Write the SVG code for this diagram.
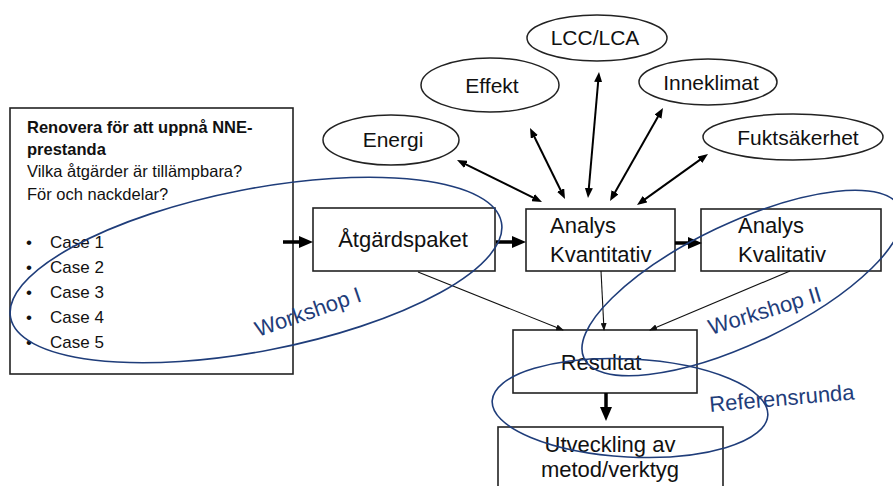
<svg xmlns="http://www.w3.org/2000/svg" width="893" height="486" viewBox="0 0 893 486">
<style>
text{font-family:"Liberation Sans",Arial,sans-serif;fill:#111}
.box{fill:#fff;stroke:#222;stroke-width:1.6}
.ell{fill:#fff;stroke:#222;stroke-width:1.5}
.lbl{font-size:21px;text-anchor:middle}
.big{font-size:22px}
.hd{font-size:16.5px}
.cs{font-size:17px}
.thick{stroke:#000;stroke-width:3.5;fill:none;marker-end:url(#mb)}
.med{stroke:#000;stroke-width:2;fill:none;marker-start:url(#mm);marker-end:url(#mm)}
.thin{stroke:#111;stroke-width:1.1;fill:none;marker-end:url(#ms)}
.blue{fill:none;stroke:#1f3d7a;stroke-width:1.6}
.bt{fill:#1f3d7a;font-size:22px}
</style>
<defs>
<marker id="mb" markerUnits="userSpaceOnUse" viewBox="0 0 14 12" markerWidth="14" markerHeight="12" refX="4" refY="6" orient="auto"><path d="M0,0 L14,6 L0,12 z" fill="#000"/></marker>
<marker id="mm" markerUnits="userSpaceOnUse" viewBox="0 0 10 8" markerWidth="10" markerHeight="8" refX="3" refY="4" orient="auto-start-reverse"><path d="M0,0 L10,4 L0,8 z" fill="#000"/></marker>
<marker id="ms" markerUnits="userSpaceOnUse" viewBox="0 0 8 6" markerWidth="8" markerHeight="6" refX="7" refY="3" orient="auto"><path d="M0,0 L8,3 L0,6 z" fill="#111"/></marker>
</defs>
<rect width="893" height="486" fill="#fff"/>

<g id="renovera">
<rect class="box" x="10" y="108" width="283" height="266"/>
<text class="hd" font-weight="bold" x="27" y="133">Renovera för att uppnå NNE-</text>
<text class="hd" font-weight="bold" x="27" y="155">prestanda</text>
<text class="hd" x="27" y="177">Vilka åtgärder är tillämpbara?</text>
<text class="hd" x="27" y="200">För och nackdelar?</text>
<text class="cs" x="26" y="248">•</text><text class="cs" x="50" y="248">Case 1</text>
<text class="cs" x="26" y="273">•</text><text class="cs" x="50" y="273">Case 2</text>
<text class="cs" x="26" y="298">•</text><text class="cs" x="50" y="298">Case 3</text>
<text class="cs" x="26" y="323">•</text><text class="cs" x="50" y="323">Case 4</text>
<text class="cs" x="26" y="348">•</text><text class="cs" x="50" y="348">Case 5</text>
</g>

<g id="atgardspaket">
<rect class="box" x="313" y="208" width="182" height="63"/>
<text class="big" x="403" y="247" text-anchor="middle">Åtgärdspaket</text>
</g>

<g id="kvantitativ">
<rect class="box" x="526" y="209" width="149" height="62"/>
<text class="big" x="550" y="233">Analys</text>
<text class="big" x="550" y="262">Kvantitativ</text>
</g>

<g id="kvalitativ">
<rect class="box" x="701" y="209" width="180" height="62"/>
<text class="big" x="738" y="233">Analys</text>
<text class="big" x="738" y="262">Kvalitativ</text>
</g>

<g id="resultat">
<rect class="box" x="513" y="330" width="184" height="63"/>
<text class="big" x="601" y="370" text-anchor="middle">Resultat</text>
</g>

<g id="utveckling">
<rect class="box" x="498" y="427" width="225" height="70"/>
<text class="big" x="610" y="452" text-anchor="middle">Utveckling av</text>
<text class="big" x="610" y="477" text-anchor="middle">metod/verktyg</text>
</g>

<g id="lcc">
<ellipse class="ell" cx="597" cy="38" rx="70" ry="23"/>
<text class="lbl" x="595" y="45">LCC/LCA</text>
</g>
<g id="effekt">
<ellipse class="ell" cx="490" cy="85" rx="69" ry="27"/>
<text class="lbl" x="492" y="93">Effekt</text>
</g>
<g id="inneklimat">
<ellipse class="ell" cx="708" cy="82" rx="69" ry="23"/>
<text class="lbl" x="711" y="90">Inneklimat</text>
</g>
<g id="energi">
<ellipse class="ell" cx="391" cy="140" rx="68" ry="25"/>
<text class="lbl" x="393" y="147">Energi</text>
</g>
<g id="fuktsakerhet">
<ellipse class="ell" cx="793" cy="137" rx="90" ry="23"/>
<text class="lbl" x="798" y="145">Fuktsäkerhet</text>
</g>

<g id="connectors">
<path class="thick" d="M283,242 H303"/>
<path class="thick" d="M496,242 H516"/>
<path class="thick" d="M675,243 H692"/>
<path class="thick" d="M606,393 V411"/>
<path class="med" d="M463.3,163.1 L535.7,198.9"/>
<path class="med" d="M533.1,134.3 L561.9,192.7"/>
<path class="med" d="M598.4,79 L588.6,191"/>
<path class="med" d="M659.5,114.1 L613.5,194.9"/>
<path class="med" d="M702.3,158.1 L642.7,200.9"/>
<path class="thin" d="M418,272 L563,330"/>
<path class="thin" d="M601,271 L604,330"/>
<path class="thin" d="M790,271 L650,330"/>
</g>

<g id="workshop1">
<ellipse class="blue" cx="256" cy="270" rx="250" ry="81" transform="rotate(-11 256 270)"/>
<text class="bt" x="258" y="337" transform="rotate(-19 258 337)">Workshop I</text>
</g>
<g id="workshop2">
<ellipse class="blue" cx="742" cy="283" rx="175" ry="60" transform="rotate(-25.5 742 283)"/>
<text class="bt" x="711" y="335" transform="rotate(-17 711 335)">Workshop II</text>
</g>
<g id="referensrunda">
<ellipse class="blue" cx="630" cy="408" rx="138" ry="49" transform="rotate(3 630 408)"/>
<text class="bt" x="710" y="412" transform="rotate(-5 710 412)">Referensrunda</text>
</g>
</svg>
